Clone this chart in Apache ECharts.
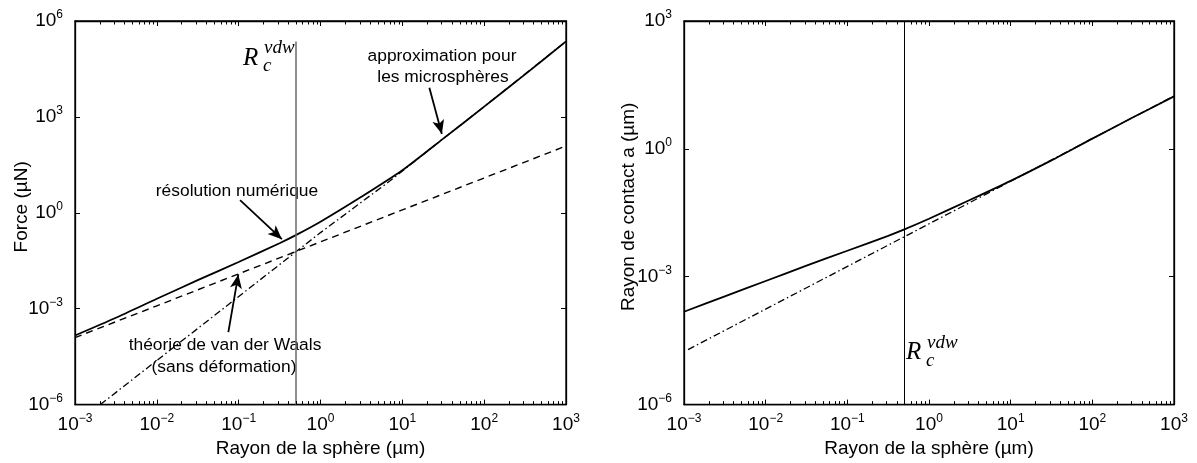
<!DOCTYPE html>
<html><head><meta charset="utf-8">
<script src="https://cdn.jsdelivr.net/npm/echarts@6/dist/echarts.min.js"></script>
<style>html,body{margin:0;padding:0;background:#fff}#c{width:1197px;height:463px}</style>
</head><body><div id="c"></div>
<script>
// ---- axes ----
const xMin = 1e-3, xMax = 1e3;
const leftYMin = 1e-6, leftYMax = 1e6;
const rightYMin = 1e-6, rightYMax = 1e3;
const xDecades = [-3, -2, -1, 0, 1, 2, 3];
const minorMultipliers = [2, 3, 4, 5, 6, 7, 8, 9];
const rcVdw = 0.5;            // R_c^vdw (µm)
const leftRcLineTop = 2.3e5;  // top end of the vertical line on the left plot

// ---- left plot: Force (µN) vs sphere radius (µm) ----
const leftNumR = [0.001, 0.00316, 0.01, 0.0316, 0.1, 0.316, 0.5, 1, 3.16, 10, 31.6, 100, 316, 1000];
const leftNumF = [1.45e-4, 5.2e-4, 2.04e-3, 7.8e-3, 0.0288, 0.112, 0.20, 0.525, 3.16, 21.4, 209, 2.09e3, 2.14e4, 2.3e5];
const leftVdwR = [0.001, 0.01, 0.1, 1, 10, 100, 1000];
const leftVdwF = [1.25e-4, 1.23e-3, 0.0123, 0.123, 1.23, 12.3, 123];
const leftMicroR = [0.00204, 0.0316, 1, 7.08, 31.6, 100, 1000];
const leftMicroF = [1.0e-6, 2.4e-4, 0.24, 10.0, 209, 2.09e3, 2.3e5];

// ---- right plot: contact radius a (µm) vs sphere radius (µm) ----
const rightNumR = [0.001, 0.00316, 0.01, 0.0316, 0.1, 0.316, 0.5, 1, 3.16, 10, 31.6, 100, 316, 1000];
const rightNumA = [1.51e-4, 3.47e-4, 7.94e-4, 1.82e-3, 4.07e-3, 9.12e-3, 0.0129, 0.0229, 0.0631, 0.178, 0.537, 1.74, 5.5, 17.0];
const rightMicroR = [0.00112, 0.5, 10, 1000];
const rightMicroA = [1.95e-5, 8.7e-3, 0.174, 17.4];

// ---- annotation arrows (data coords: [start], [tip]) ----
const arrowApprox = [[21.4, 8.2e3], [30.4, 292]];
const arrowNum = [[0.104, 2.49], [0.337, 0.150]];
const arrowVdw = [[0.0748, 1.84e-4], [0.0991, 0.0118]];

const pairs = (xs, ys) => xs.map((x, i) => [x, ys[i]]);
const minorTicks = [];
xDecades.slice(0, -1).forEach(d => minorMultipliers.forEach(k => minorTicks.push(k * Math.pow(10, d))));

const FONT = 'Liberation Sans, Arial, sans-serif';
const AX = 19;
function expLabel(v) {
  const e = Math.round(Math.log10(v));
  return '{b|10}{s|' + (e < 0 ? '\u2212' + (-e) : e) + '}';
}
const richLab = {
  b: { fontSize: AX, lineHeight: 24, fontFamily: FONT, color: '#000' },
  s: { fontSize: 12, lineHeight: 12, fontFamily: FONT, color: '#000', verticalAlign: 'top' }
};
function xAx(grid, pos, name) {
  return {
    type: 'log', gridIndex: grid, position: pos, min: xMin, max: xMax, logBase: 10, interval: 1,
    axisLine: { show: true, onZero: false, lineStyle: { color: '#000', width: 1.3 } },
    axisTick: { show: true, inside: true, length: 5, lineStyle: { color: '#000', width: 1 } },
    splitLine: { show: false },
    axisLabel: pos === 'bottom' ? { show: true, formatter: expLabel, rich: richLab, margin: 8, showMinLabel: true, showMaxLabel: true } : { show: false },
    name: name || '', nameLocation: 'middle', nameGap: 30,
    nameTextStyle: { fontSize: AX, fontFamily: FONT, color: '#000' }
  };
}
function yAx(grid, pos, min, max, name, gap) {
  return {
    type: 'log', gridIndex: grid, position: pos, min: min, max: max, logBase: 10, interval: 3,
    axisLine: { show: true, onZero: false, lineStyle: { color: '#000', width: 1.3 } },
    axisTick: { show: true, inside: true, length: 5, lineStyle: { color: '#000', width: 1 } },
    splitLine: { show: false },
    axisLabel: pos === 'left' ? { show: true, formatter: expLabel, rich: richLab, margin: 12, showMinLabel: true, showMaxLabel: true } : { show: false },
    name: name || '', nameLocation: 'middle', nameGap: gap || 44, nameRotate: 90, nameMoveOverlap: false,
    nameTextStyle: { fontSize: AX, fontFamily: FONT, color: '#000', padding: [0, 0, 0, 12] }
  };
}
// minor ticks (2..9 × 10^n) on bottom and top edges
function minorSeries(xi, yi, yEdge, dir) {
  return {
    type: 'custom', xAxisIndex: xi, yAxisIndex: yi, silent: true, clip: false, z: 10,
    coordinateSystem: 'cartesian2d',
    data: minorTicks.map(v => [v, yEdge]),
    renderItem: function (params, api) {
      const p = api.coord([api.value(0), api.value(1)]);
      const px = Math.round(p[0]) + 0.5;
      return { type: 'line', shape: { x1: px, y1: p[1], x2: px, y2: p[1] + dir * 3.5 }, style: { stroke: '#000', lineWidth: 1 } };
    }
  };
}
function arrowItem(a) {
  return [{ coord: a[0], symbol: 'none' }, { coord: a[1], symbol: 'arrow', symbolSize: [9, 14] }];
}
const solid = { color: '#000', width: 1.8, type: 'solid' };
const dashed = { color: '#000', width: 1.4, type: [7, 5] };
const dashDot = { color: '#000', width: 1.3, type: [7, 3, 1.5, 3] };

const option = {
  animation: false,
  backgroundColor: '#fff',
  grid: [
    { left: 75, top: 21, width: 491, height: 387, show: true, borderColor: '#000', borderWidth: 1.3, backgroundColor: 'transparent' },
    { left: 684, top: 21, width: 490, height: 387, show: true, borderColor: '#000', borderWidth: 1.3, backgroundColor: 'transparent' }
  ],
  xAxis: [
    xAx(0, 'bottom', 'Rayon de la sphère (µm)'), xAx(0, 'top'),
    xAx(1, 'bottom', 'Rayon de la sphère (µm)'), xAx(1, 'top')
  ],
  yAxis: [
    yAx(0, 'left', leftYMin, leftYMax, 'Force (µN)', 44), yAx(0, 'right', leftYMin, leftYMax),
    yAx(1, 'left', rightYMin, rightYMax, 'Rayon de contact a (µm)', 46), yAx(1, 'right', rightYMin, rightYMax)
  ],
  series: [
    minorSeries(0, 0, leftYMin, -1), minorSeries(0, 0, leftYMax, 1),
    minorSeries(2, 2, rightYMin, -1), minorSeries(2, 2, rightYMax, 1),
    {
      type: 'line', name: 'théorie de van der Waals', xAxisIndex: 0, yAxisIndex: 0,
      data: pairs(leftVdwR, leftVdwF), showSymbol: false, lineStyle: dashed, z: 3
    },
    {
      type: 'line', name: 'approximation pour les microsphères', xAxisIndex: 0, yAxisIndex: 0,
      data: pairs(leftMicroR, leftMicroF), showSymbol: false, lineStyle: dashDot, z: 3
    },
    {
      type: 'line', name: 'résolution numérique', xAxisIndex: 0, yAxisIndex: 0,
      data: pairs(leftNumR, leftNumF), showSymbol: false, smooth: 0.25, lineStyle: solid, z: 4,
      markLine: {
        silent: true, animation: false, label: { show: false },
        data: [
          [{ coord: [rcVdw, leftRcLineTop], symbol: 'none', lineStyle: { color: '#6a6a6a', width: 1.5, type: 'solid' } }, { coord: [rcVdw, leftYMin], symbol: 'none' }],
          arrowItem(arrowApprox), arrowItem(arrowNum), arrowItem(arrowVdw)
        ],
        lineStyle: { color: '#000', width: 1.8, type: 'solid' },
        emphasis: { disabled: true }
      }
    },
    {
      type: 'line', xAxisIndex: 2, yAxisIndex: 2,
      data: pairs(rightMicroR, rightMicroA), showSymbol: false, lineStyle: dashDot, z: 3
    },
    {
      type: 'line', xAxisIndex: 2, yAxisIndex: 2,
      data: pairs(rightNumR, rightNumA), showSymbol: false, smooth: 0.25, lineStyle: solid, z: 4,
      markLine: {
        silent: true, animation: false, label: { show: false }, symbol: ['none', 'none'],
        data: [{ xAxis: rcVdw }],
        lineStyle: { color: '#000', width: 1, type: 'solid' },
        emphasis: { disabled: true }
      }
    }
  ],
  graphic: [
    { type: 'text', x: 442, y: 56, style: { text: 'approximation pour', font: '17.4px ' + FONT, fill: '#000', align: 'center', verticalAlign: 'middle' } },
    { type: 'text', x: 443, y: 77, style: { text: 'les microsphères', font: '17.4px ' + FONT, fill: '#000', align: 'center', verticalAlign: 'middle' } },
    { type: 'text', x: 237, y: 191, style: { text: 'résolution numérique', font: '17.4px ' + FONT, fill: '#000', align: 'center', verticalAlign: 'middle' } },
    { type: 'text', x: 225, y: 345, style: { text: 'théorie de van der Waals', font: '17.4px ' + FONT, fill: '#000', align: 'center', verticalAlign: 'middle' } },
    { type: 'text', x: 224, y: 367, style: { text: '(sans déformation)', font: '17.4px ' + FONT, fill: '#000', align: 'center', verticalAlign: 'middle' } },
    // R_c^vdw labels
    { type: 'text', x: 243, y: 58, style: { text: 'R', font: 'italic 25px Liberation Serif, serif', fill: '#000', align: 'left', verticalAlign: 'middle' } },
    { type: 'text', x: 264, y: 48, style: { text: 'vdw', font: 'italic 19px Liberation Serif, serif', fill: '#000', align: 'left', verticalAlign: 'middle' } },
    { type: 'text', x: 263, y: 66, style: { text: 'c', font: 'italic 19px Liberation Serif, serif', fill: '#000', align: 'left', verticalAlign: 'middle' } },
    { type: 'text', x: 906, y: 352, style: { text: 'R', font: 'italic 25px Liberation Serif, serif', fill: '#000', align: 'left', verticalAlign: 'middle' } },
    { type: 'text', x: 927, y: 343, style: { text: 'vdw', font: 'italic 19px Liberation Serif, serif', fill: '#000', align: 'left', verticalAlign: 'middle' } },
    { type: 'text', x: 926, y: 361, style: { text: 'c', font: 'italic 19px Liberation Serif, serif', fill: '#000', align: 'left', verticalAlign: 'middle' } }
  ]
};
const chart = echarts.init(document.getElementById('c'), null, { renderer: 'canvas' });
chart.setOption(option);
</script>
</body></html>
